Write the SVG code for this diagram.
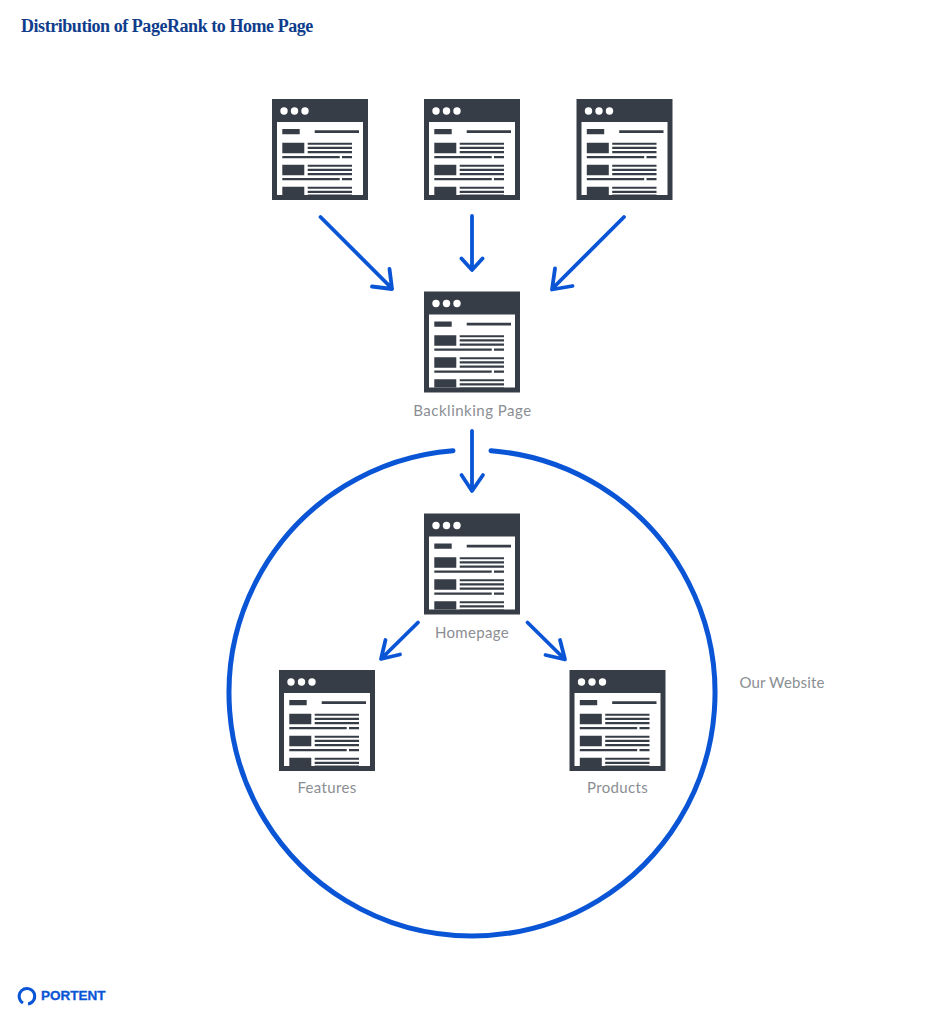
<svg xmlns="http://www.w3.org/2000/svg" width="945" height="1024" viewBox="0 0 945 1024">
<style>
.ic{fill:#363d46}
.wh{fill:#fff}
.lb{font-family:"Lato","Open Sans",sans-serif;font-size:15px;fill:#8b8e93;text-anchor:middle;letter-spacing:.35px}
.ar{fill:none;stroke:#0a55d6;stroke-width:3.800;stroke-linecap:round;stroke-linejoin:round}
</style>
<defs>
<g id="page">
<rect class="ic" width="96" height="101"/>
<rect class="wh" x="5" y="23" width="86" height="73"/>
<circle class="wh" cx="12" cy="12" r="3.700"/><circle class="wh" cx="22.500" cy="12" r="3.700"/><circle class="wh" cx="33" cy="12" r="3.700"/>
<path class="ic" d="M10.300 30h17.400v5.300H10.300zM42.700 31.300H87V34H42.700zM10.300 43.700h22v10.600h-22zM35.700 43.700H80v2H35.700zM35.700 47.700H80V50H35.700zM35.700 52H80v2.300H35.700zM10.300 57h57.400v2.300H10.300zM70 57h10v2.300H70zM10.300 65.700h22v10.600h-22zM35.700 65.700H80v2H35.700zM35.700 69.700H80V72H35.700zM35.700 74H80v2.300H35.700zM10.300 79h57.400v2.300H10.300zM70 79h10v2.300H70zM10.300 87.700h22V96h-22zM35.700 87.700H80v2H35.700zM35.700 91.700H80V94H35.700zM35.700 95.500H80V96H35.700z"/>
</g>
</defs>
<text x="21" y="32" font-family="'Liberation Serif',serif" font-weight="700" font-size="18" letter-spacing="-.45" fill="#0f3d8c">Distribution of PageRank to Home Page</text>
<g id="connectors">
<path class="ar" style="stroke-width:5" d="M453 450.700A243 243 0 1 0 491 450.700"/>
<path class="ar" d="M320.500 217L392 288.500M372 286.500L392 289L389.500 269"/>
<path class="ar" d="M472 216V269M461.500 258.500L472 270L482.500 258.500"/>
<path class="ar" d="M624 217L552.500 288.500M555 268.500L552 289.500L572.500 286"/>
<path class="ar" d="M472 431V490M461.500 475L472 491L483 475"/>
<path class="ar" d="M418 622.500L381.500 658.500M385.500 640L381 659L400 654.500"/>
<path class="ar" d="M527.500 622.500L564.500 659M560 640L565 659.500L545.500 655"/>
</g>
<g id="page-1"><use href="#page" x="272" y="99"/></g>
<g id="page-2"><use href="#page" x="424" y="99"/></g>
<g id="page-3"><use href="#page" x="576.500" y="99"/></g>
<g id="backlinking"><use href="#page" x="424" y="291.500"/><text class="lb" x="472.500" y="416" style="letter-spacing:.5px">Backlinking Page</text></g>
<g id="homepage"><use href="#page" x="424" y="513.500"/><text class="lb" x="472" y="637.500">Homepage</text></g>
<g id="features"><use href="#page" x="279" y="670"/><text class="lb" x="327" y="792.500">Features</text></g>
<g id="products"><use href="#page" x="569.500" y="670"/><text class="lb" x="617.500" y="792.500">Products</text></g>
<text class="lb" x="782" y="687.500" style="letter-spacing:.15px">Our Website</text>
<g id="logo">
<path d="M23 1003A7.800 7.800 0 1 1 28 1004" fill="none" stroke="#0a55d6" stroke-width="3"/>
<text x="41" y="1000" font-family="'Liberation Sans',sans-serif" font-weight="700" font-size="13.500" stroke="#0a55d6" stroke-width=".3" fill="#0a55d6">PORTENT</text>
</g>
</svg>
